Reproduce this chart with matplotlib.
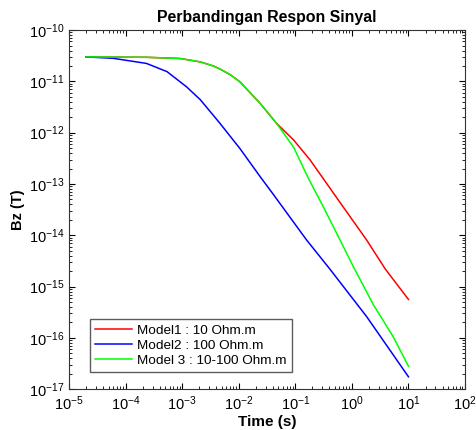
import numpy as np
import matplotlib
matplotlib.use("Agg")
import matplotlib.pyplot as plt
from matplotlib.ticker import LogLocator, NullFormatter

plt.rcParams['font.family'] = ['Liberation Sans', 'DejaVu Sans']
plt.rcParams['mathtext.fontset'] = 'custom'
plt.rcParams['mathtext.rm'] = 'Liberation Sans'
plt.rcParams['mathtext.it'] = 'Liberation Sans:italic'
plt.rcParams['mathtext.bf'] = 'Liberation Sans:bold'

# time (s) and Bz (T)
t_model1 = [2.0e-5, 2.34e-4, 9.1e-4, 2.09e-3, 3.55e-3, 4.68e-3, 7.08e-3, 1.05e-2,
            2.4e-2, 4.68e-2, 9.33e-2, 0.182, 0.71, 1.82, 3.89, 10.0]
bz_model1 = [3.0e-11, 2.95e-11, 2.8e-11, 2.4e-11, 2.0e-11, 1.74e-11, 1.35e-11, 9.8e-12,
             3.7e-12, 1.51e-12, 7.2e-13, 2.95e-13, 3.5e-14, 8.1e-15, 2.2e-15, 5.6e-16]

t_model2 = [2.0e-5, 6.0e-5, 2.34e-4, 5.4e-4, 1.2e-3, 2.09e-3, 4.68e-3, 1.05e-2,
            2.4e-2, 4.07e-2, 0.158, 0.407, 1.82, 10.0]
bz_model2 = [3.0e-11, 2.82e-11, 2.24e-11, 1.55e-11, 7.8e-12, 4.4e-12, 1.51e-12, 4.9e-13,
             1.38e-13, 6.3e-14, 8.1e-15, 2.2e-15, 2.6e-16, 1.74e-17]

t_model3 = [2.0e-5, 2.34e-4, 9.1e-4, 2.09e-3, 3.55e-3, 4.68e-3, 7.08e-3, 1.05e-2,
            2.4e-2, 4.68e-2, 9.33e-2, 0.17, 0.316, 0.617, 1.07, 2.4, 5.37, 10.0]
bz_model3 = [3.0e-11, 2.95e-11, 2.8e-11, 2.4e-11, 2.0e-11, 1.74e-11, 1.35e-11, 9.8e-12,
             3.7e-12, 1.51e-12, 5.2e-13, 1.29e-13, 3.5e-14, 8.1e-15, 2.4e-15, 4.4e-16, 1.05e-16, 2.8e-17]

labels = ['Model1 : 10 Ohm.m', 'Model2 : 100 Ohm.m', 'Model 3 : 10-100 Ohm.m']

fig = plt.figure(figsize=(4.76, 4.30), dpi=100)
ax = fig.add_axes([0.145, 0.095, 0.832, 0.835])

ax.loglog(t_model1, bz_model1, color='#ff0000', lw=1.1, label=labels[0])
ax.loglog(t_model2, bz_model2, color='#0000ff', lw=1.1, label=labels[1])
ax.loglog(t_model3, bz_model3, color='#00ff00', lw=1.1, label=labels[2])

ax.set_xlim(1e-5, 1e2)
ax.set_ylim(1e-17, 1e-10)
ax.xaxis.set_major_locator(LogLocator(base=10, numticks=20))
ax.yaxis.set_major_locator(LogLocator(base=10, numticks=20))
ax.xaxis.set_minor_locator(LogLocator(base=10, subs=np.arange(2, 10), numticks=20))
ax.yaxis.set_minor_locator(LogLocator(base=10, subs=np.arange(2, 10), numticks=20))
ax.xaxis.set_minor_formatter(NullFormatter())
ax.yaxis.set_minor_formatter(NullFormatter())
ax.tick_params(which='both', direction='in', top=True, right=True, labelsize=10.5)
ax.tick_params(which='major', length=4)
ax.tick_params(which='minor', length=2)
for s in ax.spines.values():
    s.set_color('#333333')

ax.set_title('Perbandingan Respon Sinyal', fontsize=11.4, fontweight='bold', pad=6)
ax.set_xlabel('Time (s)', fontsize=11, fontweight='bold', labelpad=2)
ax.set_ylabel('Bz (T)', fontsize=10.5, fontweight='bold')
ax.yaxis.set_label_coords(-0.112, 0.5)

leg = ax.legend(loc='lower left', bbox_to_anchor=(0.053, 0.047), fontsize=9.7,
                fancybox=False, edgecolor='#333333', handlelength=2.7,
                borderaxespad=0, labelspacing=0.2, handletextpad=0.4)
leg.get_frame().set_linewidth(1.0)

fig.savefig('out.png', dpi=100)
